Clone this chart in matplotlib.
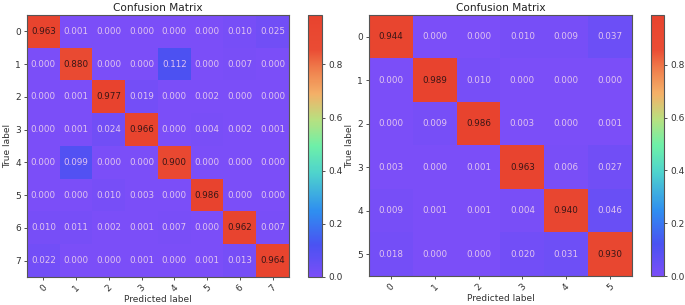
import numpy as np
import matplotlib
matplotlib.use("Agg")
import matplotlib.pyplot as plt
from matplotlib.colors import LinearSegmentedColormap

# confusion matrices (normalised)
labels_a = ["0", "1", "2", "3", "4", "5", "6", "7"]
cm_a = np.array([
    [0.963, 0.001, 0.000, 0.000, 0.000, 0.000, 0.010, 0.025],
    [0.000, 0.880, 0.000, 0.000, 0.112, 0.000, 0.007, 0.000],
    [0.000, 0.001, 0.977, 0.019, 0.000, 0.002, 0.000, 0.000],
    [0.000, 0.001, 0.024, 0.966, 0.000, 0.004, 0.002, 0.001],
    [0.000, 0.099, 0.000, 0.000, 0.900, 0.000, 0.000, 0.000],
    [0.000, 0.000, 0.010, 0.003, 0.000, 0.986, 0.000, 0.000],
    [0.010, 0.011, 0.002, 0.001, 0.007, 0.000, 0.962, 0.007],
    [0.022, 0.000, 0.000, 0.001, 0.000, 0.001, 0.013, 0.964],
])

labels_b = ["0", "1", "2", "3", "4", "5"]
cm_b = np.array([
    [0.944, 0.000, 0.000, 0.010, 0.009, 0.037],
    [0.000, 0.989, 0.010, 0.000, 0.000, 0.000],
    [0.000, 0.009, 0.986, 0.003, 0.000, 0.001],
    [0.003, 0.000, 0.001, 0.963, 0.006, 0.027],
    [0.009, 0.001, 0.001, 0.004, 0.940, 0.046],
    [0.018, 0.000, 0.000, 0.020, 0.031, 0.930],
])

# washed-out rainbow, as seen in the picture
cmap = LinearSegmentedColormap.from_list("washed_rainbow", [
    (0.00, "#7b4ef8"),
    (0.12, "#4a52f2"),
    (0.25, "#2f8ef0"),
    (0.40, "#4fd4cc"),
    (0.50, "#6ef0a8"),
    (0.60, "#b8e080"),
    (0.70, "#f4b068"),
    (0.80, "#ef7a4a"),
    (0.87, "#ea4c34"),
    (1.00, "#e8432e"),
])

W, H = 685, 305
fig = plt.figure(figsize=(W / 100, H / 100), dpi=100)


def px(x0, y0, x1, y1):
    return [x0 / W, (H - y1) / H, (x1 - x0) / W, (y1 - y0) / H]


def draw(cm, labels, ax_box, cb_box):
    ax = fig.add_axes(px(*ax_box))
    cax = fig.add_axes(px(*cb_box))
    im = ax.imshow(cm, cmap=cmap, aspect="auto", interpolation="nearest")
    thresh = (cm.max() + cm.min()) / 2
    for i in range(cm.shape[0]):
        for j in range(cm.shape[1]):
            col = "#3a1616" if cm[i, j] > thresh else "#e0c4f0"
            ax.text(j, i, f"{cm[i, j]:.3f}", ha="center", va="center",
                    color=col, fontsize=6.3)
    ax.set_xticks(range(len(labels)))
    ax.set_yticks(range(len(labels)))
    ax.set_xticklabels(labels, rotation=45)
    ax.set_yticklabels(labels)
    ax.tick_params(labelsize=6.5, length=2.5, width=0.6, colors="#333333", pad=2)
    ax.set_title("Confusion Matrix", fontsize=7.6, color="#222222", pad=3)
    ax.set_xlabel("Predicted label", fontsize=6.5, color="#333333", labelpad=1)
    ax.set_ylabel("True label", fontsize=6.5, color="#333333", labelpad=2)
    for s in ax.spines.values():
        s.set_color("#555555")
        s.set_linewidth(0.8)
    cb = fig.colorbar(im, cax=cax)
    cb.set_ticks([0.0, 0.2, 0.4, 0.6, 0.8])
    cb.ax.tick_params(labelsize=6.5, length=2.5, width=0.6, colors="#333333", pad=2)
    cb.outline.set_edgecolor("#555555")
    cb.outline.set_linewidth(0.8)


draw(cm_a, labels_a, (27, 15, 289, 277), (308, 15, 322, 277))
draw(cm_b, labels_b, (369, 15, 632, 276), (651, 15, 664, 276))

plt.savefig("out.png", dpi=100)
